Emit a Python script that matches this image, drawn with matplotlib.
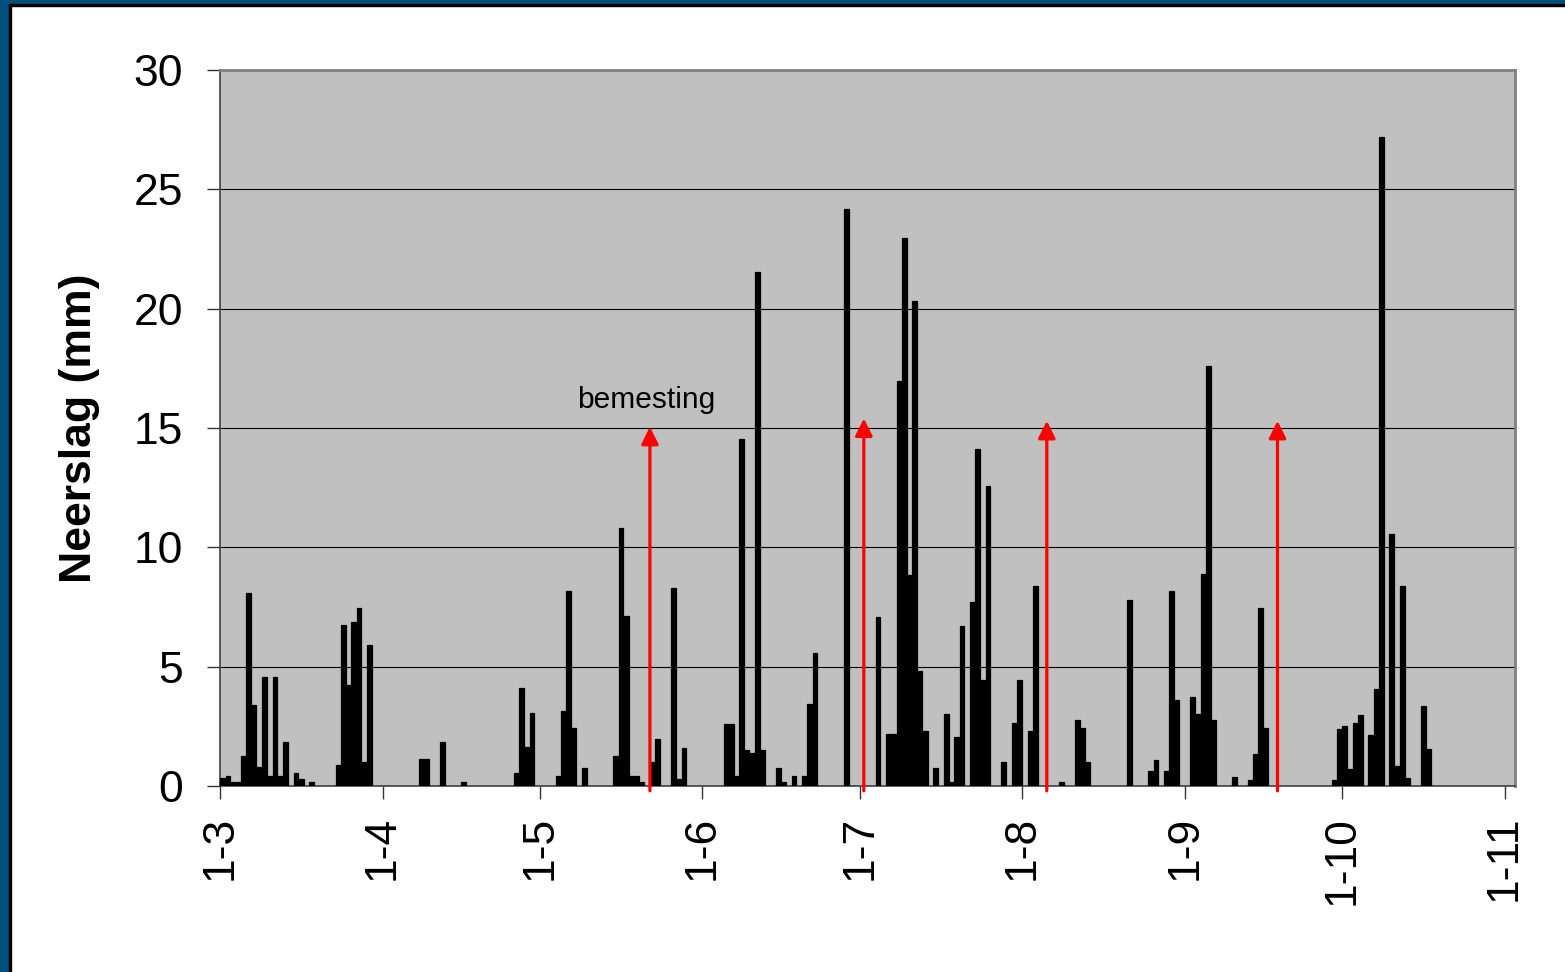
import matplotlib
matplotlib.use("Agg")
import matplotlib.pyplot as plt
from matplotlib.patches import Rectangle

plt.rcParams['font.family'] = ['Liberation Sans', 'DejaVu Sans']

# daily rainfall, day 0 = 1 March
days = [0, 1, 2, 3, 4, 5, 6, 7, 8, 9, 10, 11, 12, 14, 15, 17, 22, 23, 24, 25, 26, 27, 28,
        38, 39, 42, 46, 56, 57, 58, 59, 64, 65, 66, 67, 69, 75, 76, 77, 78, 79, 80,
        82, 83, 86, 87, 88, 96, 97, 98, 99, 100, 101, 102, 103, 106, 107, 109, 111, 112, 113,
        119, 125, 127, 128, 129, 130, 131, 132, 133, 134, 136, 138, 139, 140, 141,
        143, 144, 145, 146, 149, 151, 152, 154, 155, 160, 163, 164, 165, 173, 177, 178,
        180, 181, 182, 185, 186, 187, 188, 189, 193, 196, 197, 198, 199,
        212, 213, 214, 215, 216, 217, 219, 220, 221, 223, 224, 225, 226, 229, 230]
rain_mm = [0.32, 0.42, 0.18, 0.18, 1.26, 8.07, 3.39, 0.78, 4.58, 0.42, 4.58, 0.42, 1.86, 0.56, 0.31, 0.18,
           0.89, 6.74, 4.23, 6.88, 7.47, 1.02, 5.91,
           1.14, 1.14, 1.86, 0.18, 0.56, 4.12, 1.62, 3.04, 0.42, 3.16, 8.17, 2.44, 0.77,
           1.26, 10.81, 7.12, 0.42, 0.42, 0.18,
           1.0, 1.95, 8.31, 0.29, 1.61, 2.58, 2.58, 0.42, 14.52, 1.51, 1.40, 21.53, 1.51,
           0.77, 0.18, 0.42, 0.42, 3.42, 5.56,
           24.17, 7.08, 2.19, 2.19, 16.98, 22.94, 8.86, 20.32, 4.81, 2.30, 0.76, 3.03, 0.17, 2.06, 6.71,
           7.70, 14.11, 4.46, 12.56, 1.0, 2.63, 4.46, 2.30, 8.38, 0.17, 2.78, 2.43, 0.99, 7.79, 0.61, 1.10,
           0.61, 8.16, 3.62, 3.72, 3.02, 8.88, 17.61, 2.78, 0.39, 0.27, 1.34, 7.44, 2.42,
           0.24, 2.40, 2.50, 0.72, 2.62, 2.98, 2.13, 4.07, 27.18, 10.54, 0.83, 8.37, 0.33, 3.35, 1.56]

# fertiliser applications (day offsets) and arrow tip heights
fert_days = [82.0, 122.8, 157.7, 201.7]
fert_tips = [15.05, 15.4, 15.3, 15.3]

month_days = [0, 31, 61, 92, 122, 153, 184, 214, 245]
month_labels = ["1-3", "1-4", "1-5", "1-6", "1-7", "1-8", "1-9", "1-10", "1-11"]

fig = plt.figure(figsize=(15.65, 9.72), dpi=100)
fig.patch.set_facecolor("white")

# blue slide frame on the left and top edge
blue = "#014f7d"
fig.patches.append(Rectangle((0, 0), 9 / 1565, 1, transform=fig.transFigure, color=blue, zorder=0))
fig.patches.append(Rectangle((0, 1 - 4 / 972), 1, 4 / 972, transform=fig.transFigure, color=blue, zorder=0))
fig.patches.append(Rectangle((9 / 1565, 0), 1.6 / 1565, 1 - 4 / 972, transform=fig.transFigure, color="black", zorder=0))
fig.patches.append(Rectangle((9 / 1565, 1 - 5.6 / 972), 1, 1.6 / 972, transform=fig.transFigure, color="black", zorder=0))

ax = fig.add_axes([220 / 1565, 1 - 786 / 972, 1295 / 1565, 716 / 972])
ax.set_facecolor("#c0c0c0")

ax.bar([d + 0.5 for d in days], rain_mm, width=0.9, color="black",
       edgecolor="black", linewidth=0.9, zorder=3)

for x, tip in zip(fert_days, fert_tips):
    ax.annotate("", xy=(x, tip), xytext=(x, -0.2),
                arrowprops=dict(arrowstyle="-|>", color="red", lw=2.3,
                                mutation_scale=26, shrinkA=0, shrinkB=0),
                zorder=4, annotation_clip=False)

ax.text(81.3, 15.82, "bemesting", fontsize=21.5, ha="center", va="baseline", zorder=5)

ax.set_xlim(0, 247)
ax.set_ylim(0, 30)
ax.set_yticks(range(0, 31, 5))
ax.set_xticks(month_days)
ax.set_xticklabels(month_labels, rotation=90)
ax.tick_params(axis="both", labelsize=32, length=9.5, width=1.0, color="#333333", pad=17)
ax.tick_params(axis="x", pad=12)
ax.grid(axis="y", color="black", linewidth=0.8, zorder=1)
ax.set_axisbelow(True)

ax.set_ylabel("Neerslag (mm)", fontsize=32, fontweight="bold", labelpad=24)

for side in ["top", "right"]:
    ax.spines[side].set_color("#808080")
    ax.spines[side].set_linewidth(2.0)
for side in ["left", "bottom"]:
    ax.spines[side].set_color("#404040")
    ax.spines[side].set_linewidth(1.2)

fig.savefig("out.png", dpi=100)
